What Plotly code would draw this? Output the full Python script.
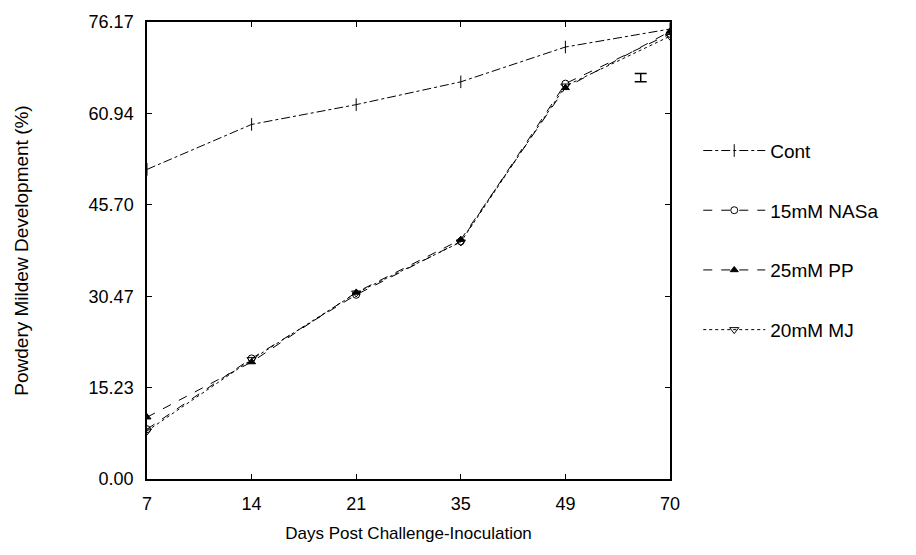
import plotly.graph_objects as go

days = ["7", "14", "21", "35", "49", "70"]
cont = [51.6, 59.1, 62.4, 66.2, 72.0, 75.0]
nasa = [8.3, 20.1, 30.7, 39.6, 65.9, 74.2]
pp = [10.3, 19.5, 31.1, 39.9, 65.2, 74.6]
mj = [8.0, 19.9, 31.0, 39.5, 65.5, 73.8]
y_ticks = [0.00, 15.23, 30.47, 45.70, 60.94, 76.17]
err_x = 4.72
err_y = 66.9
err_half = 0.7

xi = list(range(len(days)))
FONT = "Liberation Sans, Arial, sans-serif"

fig = go.Figure()
series = [
    ("Cont", cont, "line-ns-open", "dashdot", 9),
    ("15mM NASa", nasa, "circle-open", "dash", 7),
    ("25mM PP", pp, "triangle-up", "dash", 7),
    ("20mM MJ", mj, "triangle-down-open", "dot", 8),
]
for i, (name, vals, sym, dash, size) in enumerate(series):
    fig.add_trace(go.Scatter(
        x=xi, y=vals, name=name, mode="lines+markers",
        line=dict(color="black", width=1, dash=dash),
        marker=dict(symbol=sym, size=size, color="black",
                    line=dict(color="black", width=1)),
        legendgroup=f"g{i}",
    ))

fig.add_trace(go.Scatter(
    x=[err_x], y=[err_y], mode="markers", showlegend=False,
    marker=dict(size=1, color="black"),
    error_y=dict(type="constant", value=err_half, color="black", thickness=1.5, width=6),
))

fig.update_layout(
    width=916, height=555,
    margin=dict(l=147, r=246, t=20, b=76),
    paper_bgcolor="white", plot_bgcolor="white",
    font=dict(family=FONT, size=18, color="black"),
    legend=dict(x=1.054, xanchor="left", y=0.76, yanchor="top",
                itemwidth=62, tracegroupgap=32, font=dict(size=19, family=FONT),
                bgcolor="rgba(0,0,0,0)"),
    xaxis=dict(
        range=[0, 5], tickmode="array", tickvals=xi, ticktext=days,
        showline=True, linecolor="black", linewidth=1.5, mirror="ticks",
        ticks="inside", ticklen=5, tickcolor="black", showgrid=False, zeroline=False,
        ticklabelstandoff=8,
        title=dict(text="Days Post Challenge-Inoculation", font=dict(size=17), standoff=14),
        tickfont=dict(size=18),
    ),
    yaxis=dict(
        range=[0, 76.17], tickmode="array", tickvals=y_ticks,
        ticktext=[f"{v:.2f}" for v in y_ticks],
        showline=True, linecolor="black", linewidth=1.5, mirror="ticks",
        ticks="inside", ticklen=5, tickcolor="black", showgrid=False, zeroline=False,
        ticklabelstandoff=8,
        title=dict(text="Powdery Mildew Development (%)", font=dict(size=19), standoff=55),
        tickfont=dict(size=18),
    ),
)

fig.write_html("out.html")
